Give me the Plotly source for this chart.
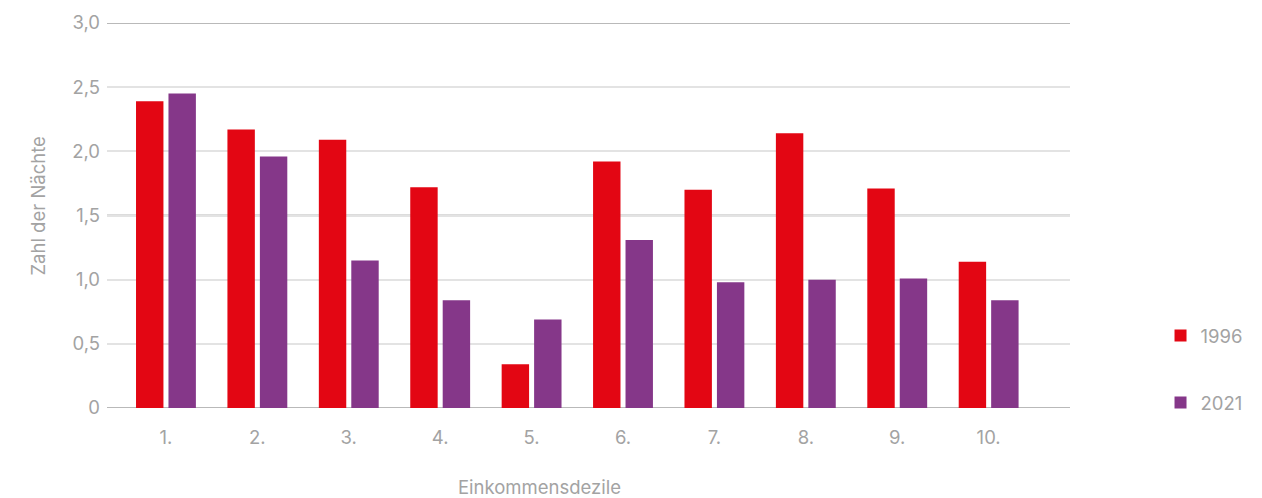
import plotly.graph_objects as go

categories = ["1.", "2.", "3.", "4.", "5.", "6.", "7.", "8.", "9.", "10."]
values_1996 = [2.39, 2.17, 2.09, 1.72, 0.34, 1.92, 1.70, 2.14, 1.71, 1.14]
values_2021 = [2.45, 1.96, 1.15, 0.84, 0.69, 1.31, 0.98, 1.00, 1.01, 0.84]
y_tickvals = [0, 0.5, 1.0, 1.5, 2.0, 2.5, 3.0]
y_ticktext = ["0", "0,5", "1,0", "1,5", "2,0", "2,5", "3,0"]

RED = "#e30613"
PURPLE = "#853789"
GREY_TXT = "#a3a3a3"
FONT = "Inter"
FS = 18.5

fig = go.Figure()
fig.add_trace(go.Bar(x=categories, y=values_1996, name="1996", marker=dict(color=RED, line=dict(width=0)),
                     legendgroup="a"))
fig.add_trace(go.Bar(x=categories, y=values_2021, name="2021", marker=dict(color=PURPLE, line=dict(width=0)),
                     legendgroup="b"))

fig.update_layout(
    width=1262, height=498,
    margin=dict(l=107, r=192, t=23, b=90),
    paper_bgcolor="white", plot_bgcolor="white",
    barmode="group", bargap=0.29, bargroupgap=0.155,
    font=dict(family=FONT, size=FS, color=GREY_TXT),
    showlegend=True,
    legend=dict(x=1.094, xanchor="left", y=0.1, yanchor="middle",
                traceorder="grouped", tracegroupgap=40,
                font=dict(family=FONT, size=FS, color=GREY_TXT),
                bgcolor="rgba(0,0,0,0)"),
    xaxis=dict(range=[-0.645, 9.89], showgrid=False, showline=False, zeroline=False,
               ticks="", ticklabelstandoff=16, tickfont=dict(size=FS, color=GREY_TXT)),
    yaxis=dict(range=[0, 3.0], tickvals=y_tickvals, ticktext=y_ticktext,
               showgrid=True, gridcolor="#e3e3e3", gridwidth=2,
               zeroline=False, showline=False, ticks="", ticklabelstandoff=6,
               tickfont=dict(size=FS, color=GREY_TXT)),
    annotations=[
        dict(text="Zahl der Nächte", xref="paper", yref="paper", x=-0.072, y=0.525,
             textangle=-90, showarrow=False, xanchor="center", yanchor="middle",
             font=dict(family=FONT, size=FS, color=GREY_TXT)),
        dict(text="Einkommensdezile", xref="paper", yref="paper", x=0.4496, y=-0.205,
             showarrow=False, xanchor="center", yanchor="middle",
             font=dict(family=FONT, size=FS, color=GREY_TXT)),
    ],
    shapes=[
        dict(type="line", xref="paper", yref="y", x0=0, x1=1, y0=yv, y1=yv, layer="below",
             line=dict(color="#b9b9b9", width=2))
        for yv in (0, 1.5, 3.0)
    ],
)

fig.write_html("out.html")
